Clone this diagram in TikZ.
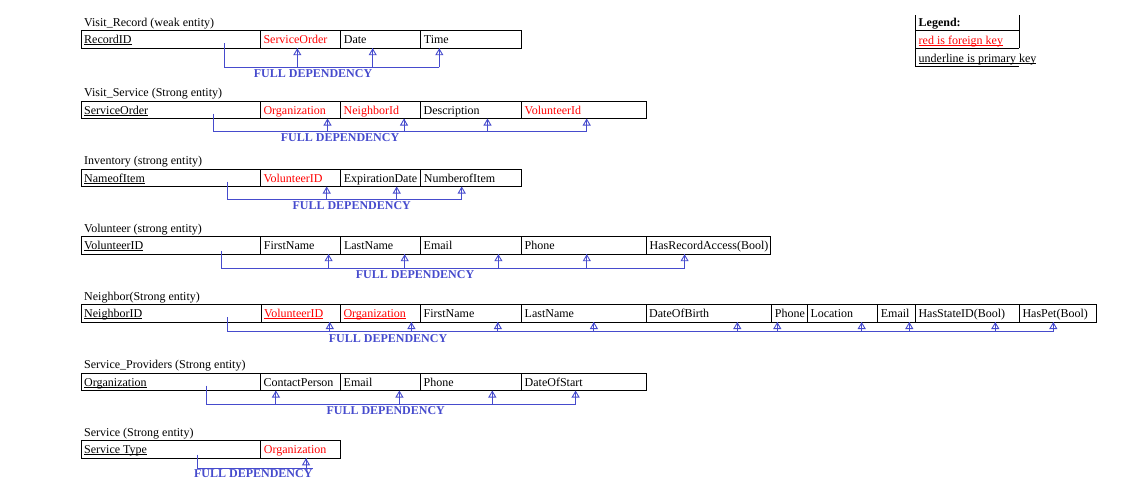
\documentclass[tikz,border=0pt]{standalone}
\usepackage{fontspec}
\setmainfont{Liberation Serif}
\usetikzlibrary{arrows.meta}
\definecolor{depblue}{RGB}{70,75,205}
\definecolor{fkred}{RGB}{255,0,0}
\tikzset{
  cellbox/.style={draw=black, line width=1pt, inner sep=0pt, outer sep=0pt, minimum height=17.5pt},
  celltext/.style={inner sep=0pt, font=\fontsize{12}{14}\selectfont, text=black},
  titletext/.style={celltext},
  tableline/.style={draw=black, line width=1pt},
  depline/.style={draw=depblue, line width=0.9pt},
  deparrow/.style={draw=depblue, line width=0.9pt, -{Triangle[open, length=7pt, width=8pt]}},
  deplabel/.style={inner sep=0pt, font=\bfseries\fontsize{12}{14}\selectfont, text=depblue},
}
\newcommand\myul[1]{\setbox0\hbox{#1}\rlap{\rule[-1.6pt]{\wd0}{0.9pt}}\box0}
\newcommand\mycell[5]{%
  \node[cellbox, minimum width={(#3-#2)*1pt}, anchor=north west] (#1) at (#2,#4) {};
  \node[celltext, anchor=base west] (#1t) at ({#2+3},{#4+13}) {#5};
}
\newcommand\myarr[4]{%
  \coordinate (#1) at (#2,#3);
  \draw[depline] (#1 |- #4) -- (#1);
  \draw[deparrow] (#1 |- #4) -- (#1);
}
\newcommand\fk[1]{\textcolor{fkred}{#1}}
\begin{document}
\begin{tikzpicture}[x=1pt,y=-1pt]
\useasboundingbox (0,0) rectangle (1138,496);

% ---------- Visit_Record ----------
\node[titletext, anchor=base west] (vrT) at (84,26.2) {Visit\_Record (weak entity)};
\mycell{vr1}{81}{260.3}{30.7}{\myul{RecordID}}
\mycell{vr2}{260.3}{340.7}{30.7}{\fk{ServiceOrder}}
\mycell{vr3}{340.7}{420.7}{30.7}{Date}
\mycell{vr4}{420.7}{521.3}{30.7}{Time}
\coordinate (vrS) at (224.5,43);
\coordinate (vrE) at (439.3,67.3);
\draw[depline] (vrS) |- (vrE);
\myarr{vrA1}{297.3}{48.2}{vrE}
\myarr{vrA2}{372.7}{48.2}{vrE}
\myarr{vrA3}{439.3}{48.2}{vrE}
\node[deplabel, anchor=base] (vrL) at (313,77.5) {FULL DEPENDENCY};

% ---------- Legend ----------
\node[celltext, font=\bfseries\fontsize{12}{14}\selectfont, anchor=base west] (lg1) at (918.5,26.5) {Legend:};
\node[celltext, anchor=base west] (lg2) at (918.5,44) {\fk{\myul{red is foreign key}}};
\node[celltext, anchor=base west] (lg3) at (918.5,62) {\myul{underline is primary key}};
\draw[tableline] (1019,15) -- (1019,48.3);
\draw[tableline] (915.7,15) -- (915.7,66) -- (1019,66);
\draw[tableline] (915.7,30.3) -- (1019,30.3);
\draw[tableline] (915.7,48.3) -- (1019,48.3);

% ---------- Visit_Service ----------
\node[titletext, anchor=base west] (vsT) at (84,96.5) {Visit\_Service (Strong entity)};
\mycell{vs1}{81}{260.3}{101}{\myul{ServiceOrder}}
\mycell{vs2}{260.3}{340.5}{101}{\fk{Organization}}
\mycell{vs3}{340.5}{420.5}{101}{\fk{NeighborId}}
\mycell{vs4}{420.5}{521.5}{101}{Description}
\mycell{vs5}{521.5}{646.5}{101}{\fk{VolunteerId}}
\coordinate (vsS) at (213.4,113.5);
\coordinate (vsE) at (586.7,131);
\draw[depline] (vsS) |- (vsE);
\myarr{vsA1}{327.5}{118.5}{vsE}
\myarr{vsA2}{404}{118.5}{vsE}
\myarr{vsA3}{487.5}{118.5}{vsE}
\myarr{vsA4}{586.7}{118.5}{vsE}
\node[deplabel, anchor=base] (vsL) at (340,141.5) {FULL DEPENDENCY};

% ---------- Inventory ----------
\node[titletext, anchor=base west] (ivT) at (84,164.5) {Inventory (strong entity)};
\mycell{iv1}{81}{260.3}{169}{\myul{NameofItem}}
\mycell{iv2}{260.3}{340.7}{169}{\fk{VolunteerID}}
\mycell{iv3}{340.7}{420.7}{169}{ExpirationDate}
\mycell{iv4}{420.7}{521.3}{169}{NumberofItem}
\coordinate (ivS) at (227.3,181.5);
\coordinate (ivE) at (461.7,199.3);
\draw[depline] (ivS) |- (ivE);
\myarr{ivA1}{326.7}{186.5}{ivE}
\myarr{ivA2}{396.7}{186.5}{ivE}
\myarr{ivA3}{461.7}{186.5}{ivE}
\node[deplabel, anchor=base] (ivL) at (351.7,209.5) {FULL DEPENDENCY};

% ---------- Volunteer ----------
\node[titletext, anchor=base west] (voT) at (84,232.2) {Volunteer (strong entity)};
\mycell{vo1}{81}{260.7}{236.7}{\myul{VolunteerID}}
\mycell{vo2}{260.7}{340.8}{236.7}{FirstName}
\mycell{vo3}{340.8}{420.5}{236.7}{LastName}
\mycell{vo4}{420.5}{521.5}{236.7}{Email}
\mycell{vo5}{521.5}{646.5}{236.7}{Phone}
\mycell{vo6}{646.5}{770.5}{236.7}{HasRecordAccess(Bool)}
\coordinate (voS) at (221.3,250.5);
\coordinate (voE) at (684.6,268.3);
\draw[depline] (voS) |- (voE);
\myarr{voA1}{328.6}{254.2}{voE}
\myarr{voA2}{404.7}{254.2}{voE}
\myarr{voA3}{498.4}{254.2}{voE}
\myarr{voA4}{586.8}{254.2}{voE}
\myarr{voA5}{684.6}{254.2}{voE}
\node[deplabel, anchor=base] (voL) at (415,278) {FULL DEPENDENCY};

% ---------- Neighbor ----------
\node[titletext, anchor=base west] (nbT) at (84,300) {Neighbor(Strong entity)};
\mycell{nb1}{81}{261}{304.5}{\myul{NeighborID}}
\mycell{nb2}{261}{340.3}{304.5}{\fk{\myul{VolunteerID}}}
\mycell{nb3}{340.3}{420.5}{304.5}{\fk{\myul{Organization}}}
\mycell{nb4}{420.5}{521.5}{304.5}{FirstName}
\mycell{nb5}{521.5}{646}{304.5}{LastName}
\mycell{nb6}{646}{771.7}{304.5}{DateOfBirth}
\mycell{nb7}{771.7}{807.3}{304.5}{Phone}
\mycell{nb8}{807.3}{877.7}{304.5}{Location}
\mycell{nb9}{877.7}{915.3}{304.5}{Email}
\mycell{nb10}{915.3}{1019.3}{304.5}{HasStateID(Bool)}
\mycell{nb11}{1019.3}{1096}{304.5}{HasPet(Bool)}
\coordinate (nbS) at (227.2,317);
\coordinate (nbE) at (1053.3,331.7);
\draw[depline] (nbS) |- (nbE);
\myarr{nbA1}{329.8}{322}{nbE}
\myarr{nbA2}{411.4}{322}{nbE}
\myarr{nbA3}{497.9}{322}{nbE}
\myarr{nbA4}{593.9}{322}{nbE}
\myarr{nbA5}{737.3}{322}{nbE}
\myarr{nbA6}{777.3}{322}{nbE}
\myarr{nbA7}{861.7}{322}{nbE}
\myarr{nbA8}{909.3}{322}{nbE}
\myarr{nbA9}{995.3}{322}{nbE}
\myarr{nbA10}{1053.3}{322}{nbE}
\node[deplabel, anchor=base] (nbL) at (388,342) {FULL DEPENDENCY};

% ---------- Service_Providers ----------
\node[titletext, anchor=base west] (spT) at (84,368.5) {Service\_Providers (Strong entity)};
\mycell{sp1}{81}{260.3}{373}{\myul{Organization}}
\mycell{sp2}{260.3}{340.5}{373}{ContactPerson}
\mycell{sp3}{340.5}{420.5}{373}{Email}
\mycell{sp4}{420.5}{521.5}{373}{Phone}
\mycell{sp5}{521.5}{646.5}{373}{DateOfStart}
\coordinate (spS) at (206.3,385.5);
\coordinate (spE) at (575.6,404.5);
\draw[depline] (spS) |- (spE);
\myarr{spA1}{275.9}{390.5}{spE}
\myarr{spA2}{399.4}{390.5}{spE}
\myarr{spA3}{492.3}{390.5}{spE}
\myarr{spA4}{575.6}{390.5}{spE}
\node[deplabel, anchor=base] (spL) at (385.7,414.5) {FULL DEPENDENCY};

% ---------- Service ----------
\node[titletext, anchor=base west] (svT) at (84,436.2) {Service (Strong entity)};
\mycell{sv1}{81}{260.7}{440.7}{\myul{Service Type}}
\mycell{sv2}{260.7}{340.7}{440.7}{\fk{Organization}}
\coordinate (svS) at (197.3,454.5);
\coordinate (svE) at (313.3,468.3);
\draw[depline] (svS) |- (svE);
\myarr{svA1}{306}{458.3}{svE}
\node[deplabel, anchor=base] (svL) at (253.3,477.5) {FULL DEPENDENCY};
\end{tikzpicture}
\end{document}
